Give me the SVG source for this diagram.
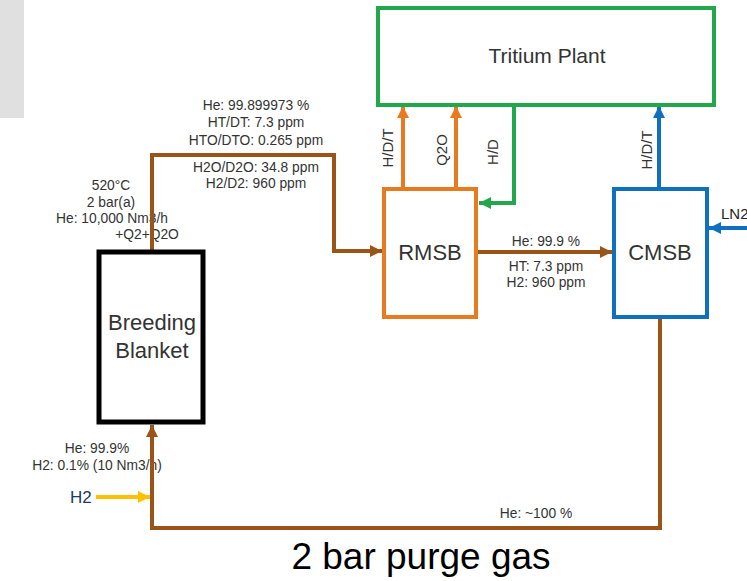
<svg xmlns="http://www.w3.org/2000/svg" width="747" height="581" viewBox="0 0 747 581">
<style>
.lbl{font-family:"Liberation Sans",Arial,sans-serif;font-size:13.8px;fill:#333;text-anchor:middle}
.node{font-family:"Liberation Sans",Arial,sans-serif;font-size:22px;fill:#333;text-anchor:middle}
.rot{font-family:"Liberation Sans",Arial,sans-serif;font-size:15px;fill:#333;text-anchor:middle}
.ln{fill:none;stroke-width:4;stroke-linejoin:miter}
.brown{stroke:#9a5418}
.orange{stroke:#e87a20}
.green{stroke:#22a84a}
.blue{stroke:#1070c0}
.yellow{stroke:#ffc000}
</style>
<defs>
<marker id="aBrown" markerUnits="userSpaceOnUse" markerWidth="12" markerHeight="12" refX="12" refY="6" orient="auto"><path d="M0,0 L12,6 L0,12 z" fill="#9a5418"/></marker>
<marker id="aOrange" markerUnits="userSpaceOnUse" markerWidth="12" markerHeight="12" refX="12" refY="6" orient="auto"><path d="M0,0 L12,6 L0,12 z" fill="#e87a20"/></marker>
<marker id="aGreen" markerUnits="userSpaceOnUse" markerWidth="12" markerHeight="12" refX="12" refY="6" orient="auto"><path d="M0,0 L12,6 L0,12 z" fill="#22a84a"/></marker>
<marker id="aBlue" markerUnits="userSpaceOnUse" markerWidth="12" markerHeight="12" refX="12" refY="6" orient="auto"><path d="M0,0 L12,6 L0,12 z" fill="#1070c0"/></marker>
<marker id="aYellow" markerUnits="userSpaceOnUse" markerWidth="12" markerHeight="12" refX="12" refY="6" orient="auto"><path d="M0,0 L12,6 L0,12 z" fill="#ffc000"/></marker>
</defs>
<rect x="0" y="0" width="747" height="581" fill="#ffffff"/>
<rect x="0" y="0" width="24" height="118" fill="#e0e0e0"/>

<g id="labels">
<text class="lbl" x="256" y="110">He: 99.899973 %</text>
<text class="lbl" x="256" y="127">HT/DT: 7.3 ppm</text>
<text class="lbl" x="256" y="145">HTO/DTO: 0.265 ppm</text>
<text class="lbl" x="256" y="172">H2O/D2O: 34.8 ppm</text>
<text class="lbl" x="256" y="188">H2/D2: 960 ppm</text>
<text class="lbl" x="111" y="190">520°C</text>
<text class="lbl" x="111" y="207">2 bar(a)</text>
<text class="lbl" x="112" y="223">He: 10,000 Nm3/h</text>
<text class="lbl" x="147" y="239">+Q2+Q2O</text>
<text class="lbl" x="546" y="246">He: 99.9 %</text>
<text class="lbl" x="546" y="271">HT: 7.3 ppm</text>
<text class="lbl" x="546" y="287">H2: 960 ppm</text>
<text class="lbl" x="97" y="453">He: 99.9%</text>
<text class="lbl" x="97" y="470">H2: 0.1% (10 Nm3/h)</text>
<text class="lbl" x="536" y="518">He: ~100 %</text>
<text class="rot" transform="translate(393,148) rotate(-90)">H/D/T</text>
<text class="rot" transform="translate(447,150) rotate(-90)">Q2O</text>
<text class="rot" transform="translate(498,152) rotate(-90)">H/D</text>
<text class="rot" transform="translate(652,150) rotate(-90)">H/D/T</text>
<text x="70" y="503" style="font-family:'Liberation Sans',Arial,sans-serif;font-size:17px;fill:#203864">H2</text>
<text x="721" y="219" style="font-family:'Liberation Sans',Arial,sans-serif;font-size:15px;fill:#222">LN2</text>
<text x="421" y="569" style="font-family:'Liberation Sans',Arial,sans-serif;font-size:37px;fill:#000;text-anchor:middle">2 bar purge gas</text>
</g>

<g id="connectors">
<path class="ln brown" d="M152,251 V155 H334 V251 H382" marker-end="url(#aBrown)"/>
<path class="ln brown" d="M477,252 H612" marker-end="url(#aBrown)"/>
<path class="ln brown" d="M660,318 V528 H152 V425" marker-end="url(#aBrown)"/>
<path class="ln yellow" d="M96,497 H150" marker-end="url(#aYellow)"/>
<path class="ln orange" d="M403,188 V106" marker-end="url(#aOrange)"/>
<path class="ln orange" d="M456,188 V106" marker-end="url(#aOrange)"/>
<path class="ln green" d="M514,106 V203 H479" marker-end="url(#aGreen)"/>
<path class="ln blue" d="M659,188 V106" marker-end="url(#aBlue)"/>
<path class="ln blue" d="M747,228 H709" marker-end="url(#aBlue)"/>
</g>

<g id="tritium-plant">
<rect x="378" y="8" width="336" height="97" fill="#fff" stroke="#22a84a" stroke-width="4"/>
<text class="node" x="547" y="63" style="font-size:21px">Tritium Plant</text>
</g>
<g id="rmsb">
<rect x="384" y="189" width="92" height="128" fill="#fff" stroke="#e87a20" stroke-width="4"/>
<text class="node" x="430" y="260">RMSB</text>
</g>
<g id="cmsb">
<rect x="614" y="189" width="93" height="128" fill="#fff" stroke="#1070c0" stroke-width="4"/>
<text class="node" x="660" y="260">CMSB</text>
</g>
<g id="breeding-blanket">
<rect x="99" y="252" width="104" height="170" fill="#fff" stroke="#000" stroke-width="5"/>
<text class="node" x="152" y="330">Breeding</text>
<text class="node" x="152" y="358">Blanket</text>
</g>
</svg>
